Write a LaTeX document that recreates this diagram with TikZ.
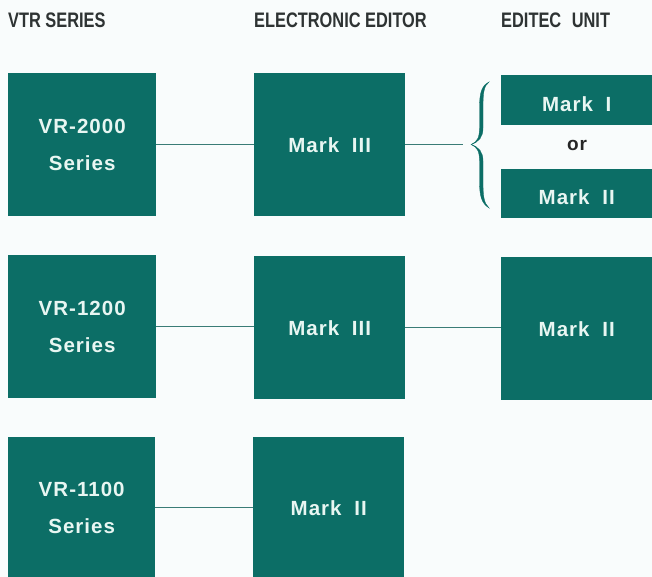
\documentclass[tikz,border=0pt]{standalone}
\usepackage{fontspec}
\setmainfont{Liberation Sans}
\newfontfamily\hdrfont[FakeStretch=0.78]{Liberation Sans}
\newfontfamily\boxfont[LetterSpace=5]{Liberation Sans}
\definecolor{boxteal}{HTML}{0C6E66}
\definecolor{boxtext}{HTML}{E8F6F2}
\definecolor{linecol}{HTML}{3A7C76}
\definecolor{bgcol}{HTML}{F9FCFC}
\definecolor{hdrcol}{HTML}{2E3333}
\tikzset{
  box/.style={fill=boxteal, draw=none, inner sep=0pt, anchor=north west,
    text=boxtext, align=center, font=\boxfont\bfseries\fontsize{20.5}{37}\selectfont},
  lowtext/.style={text height=22pt, text depth=0pt},
  hdr/.style={anchor=base west, inner sep=0pt, text=hdrcol,
    font=\hdrfont\bfseries\fontsize{21}{22}\selectfont},
  conn/.style={draw=linecol, line width=1.3pt},
  bracefill/.style={fill=boxteal, draw=boxteal, line width=0.3pt}
}
\begin{document}
\begin{tikzpicture}[x=1pt,y=-1pt]
\fill[bgcol] (0,0) rectangle (652,577);
\useasboundingbox (0,0) rectangle (652,577);

% headers
\node[hdr] (h1) at (8,28) {VTR SERIES};
\node[hdr] (h2) at (254,28) {ELECTRONIC EDITOR};
\node[hdr] (h3) at (501,28) {EDITEC\hspace{6pt} UNIT};

% row 1
\node[box, minimum width=148pt, minimum height=143pt] (vr2000) at (8,73) {VR-2000\\Series};
\node[box, minimum width=151pt, minimum height=143pt] (ed1) at (254,73) {Mark\hspace{6pt} III};
\node[box, lowtext, minimum width=151pt, minimum height=50pt] (mk1) at (501,75) {Mark\hspace{6pt} I};
\node[box, lowtext, minimum width=151pt, minimum height=49pt] (mk2a) at (501,169) {Mark\hspace{6pt} II};
\node[inner sep=0pt, font=\boxfont\bfseries\fontsize{19}{20}\selectfont, text=black!85] (or) at (577,145) {or};
\coordinate (bracein) at (463,144.5);

% row 2
\node[box, minimum width=148pt, minimum height=143pt] (vr1200) at (8,255) {VR-1200\\Series};
\node[box, minimum width=151pt, minimum height=143pt] (ed2) at (254,256) {Mark\hspace{6pt} III};
\node[box, minimum width=151pt, minimum height=143pt] (mk2b) at (501,257) {Mark\hspace{6pt} II};

% row 3
\node[box, minimum width=147pt, minimum height=141pt] (vr1100) at (8,437) {VR-1100\\Series};
\node[box, minimum width=151pt, minimum height=141pt] (ed3) at (253,437) {Mark\hspace{6pt} II};

% connectors
\draw[conn] (vr2000.east) -- (vr2000.east -| ed1.west);
\draw[conn] (ed1.east) -- (ed1.east -| bracein);
\draw[conn] (vr1200.east) -- (vr1200.east -| ed2.west);
\draw[conn] (ed2.east) -- (ed2.east -| mk2b.west);
\draw[conn] (vr1100.east) -- (vr1100.east -| ed3.west);

% brace
\fill[bracefill]
  (489,82) .. controls (481,86) and (479.5,94) .. (479.5,108)
  -- (479.5,128) .. controls (479.5,138) and (477,142) .. (471,144.5)
  .. controls (477,147) and (479.5,151) .. (479.5,161)
  -- (479.5,181) .. controls (479.5,195) and (481,203) .. (489,208)
  .. controls (483.5,203) and (483,195) .. (483,181)
  -- (483,161) .. controls (483,152) and (479,147) .. (471,144.5)
  .. controls (479,142) and (483,137) .. (483,128)
  -- (483,108) .. controls (483,94) and (483.5,86) .. (489,82) -- cycle;
\end{tikzpicture}
\end{document}
